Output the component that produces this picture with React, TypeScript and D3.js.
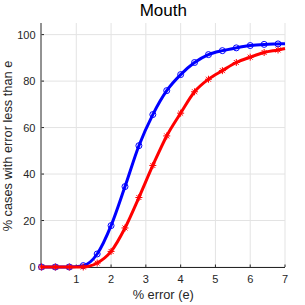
import React from 'react';
import * as d3 from 'd3';

// error thresholds (% error), markers every 0.4, last point at 7
const errors = [0, 0.4, 0.8, 1.2, 1.6, 2.0, 2.4, 2.8, 3.2, 3.6, 4.0, 4.4, 4.8, 5.2, 5.6, 6.0, 6.4, 6.8, 7.0];
const blueValues = [0, 0, 0, 0.6, 5.6, 17.8, 34.6, 52.2, 65.6, 75.9, 82.8, 88, 91.4, 93.1, 94.3, 95.3, 95.8, 96.0, 96.1];
const redValues = [0, 0, 0, 0, 1.7, 6.7, 16.8, 29.9, 43.7, 56.4, 66.2, 75.4, 80.8, 84.5, 88, 90.3, 92.3, 93.4, 94.0];
const xTicks = [1, 2, 3, 4, 5, 6, 7];
const yTicks = [0, 20, 40, 60, 80, 100];

export default function App() {
  const width = 305;
  const height = 305;
  const margin = { top: 23, right: 20, bottom: 38, left: 41.5 };

  const x = d3.scaleLinear().domain([0, 7]).range([margin.left, width - margin.right]);
  const y = d3.scaleLinear().domain([0, 105]).range([height - margin.bottom, margin.top]);

  const line = d3.line<number>()
    .x((d, i) => x(errors[i]))
    .y(d => y(d))
    .curve(d3.curveMonotoneX);

  // markers only at 0..6.8
  const markIdx = errors.map((e, i) => i).filter(i => errors[i] <= 6.8);
  const font = 'Liberation Sans, Arial, Helvetica, sans-serif';

  const star = (cx: number, cy: number, r: number) => {
    const parts: string[] = [];
    for (let k = 0; k < 4; k++) {
      const a = (k * Math.PI) / 4;
      const dx = r * Math.cos(a);
      const dy = r * Math.sin(a);
      parts.push(`M${cx - dx},${cy - dy}L${cx + dx},${cy + dy}`);
    }
    return parts.join('');
  };

  return (
    <svg width={width} height={height} style={{ position: 'absolute', left: 0, top: 0, background: '#fff' }}>
      {/* grid */}
      <g stroke="#e3e3e3" strokeWidth={1}>
        {xTicks.map(t => (
          <line key={'gx' + t} x1={x(t)} x2={x(t)} y1={y(105)} y2={y(0)} />
        ))}
        {yTicks.map(t => (
          <line key={'gy' + t} x1={x(0)} x2={x(7)} y1={y(t)} y2={y(t)} />
        ))}
      </g>

      {/* axes */}
      <g stroke="#262626" strokeWidth={1} fill="none">
        <line x1={x(0)} x2={x(7)} y1={y(0) + 0.5} y2={y(0) + 0.5} />
        <line x1={x(0) - 0.5} x2={x(0) - 0.5} y1={y(105)} y2={y(0)} />
        {xTicks.map(t => (
          <line key={'tx' + t} x1={x(t)} x2={x(t)} y1={y(0)} y2={y(0) - 2.5} />
        ))}
        {yTicks.map(t => (
          <line key={'ty' + t} x1={x(0)} x2={x(0) + 2.5} y1={y(t)} y2={y(t)} />
        ))}
      </g>

      {/* series */}
      <path d={line(blueValues) || ''} fill="none" stroke="#0000ff" strokeWidth={3} />
      <g fill="none" stroke="#0000ff" strokeWidth={1}>
        {markIdx.map(i => (
          <circle key={'b' + i} cx={x(errors[i])} cy={y(blueValues[i])} r={3} />
        ))}
      </g>
      <path d={line(redValues) || ''} fill="none" stroke="#ff0000" strokeWidth={3} />
      <g fill="none" stroke="#ff0000" strokeWidth={1}>
        {markIdx.map(i => (
          <path key={'r' + i} d={star(x(errors[i]), y(redValues[i]), 3.5)} />
        ))}
      </g>

      {/* tick labels */}
      <g fill="#262626" fontFamily={font} fontSize={11}>
        {xTicks.map(t => (
          <text key={'lx' + t} x={x(t)} y={y(0) + 15.5} textAnchor="middle">{t}</text>
        ))}
        {yTicks.map(t => (
          <text key={'ly' + t} x={x(0) - 6} y={y(t) + 4} textAnchor="end">{t}</text>
        ))}
      </g>

      {/* labels */}
      <text x={(x(0) + x(7)) / 2} y={15.5} textAnchor="middle" fontFamily={font} fontSize={17} fill="#000">Mouth</text>
      <text x={(x(0) + x(7)) / 2} y={299} textAnchor="middle" fontFamily={font} fontSize={12.8} fill="#262626">% error (e)</text>
      <text
        transform="translate(12.3,146) rotate(-90)"
        textAnchor="middle"
        fontFamily={font}
        fontSize={12.8}
        fill="#262626"
      >% cases with error less than e</text>
    </svg>
  );
}
